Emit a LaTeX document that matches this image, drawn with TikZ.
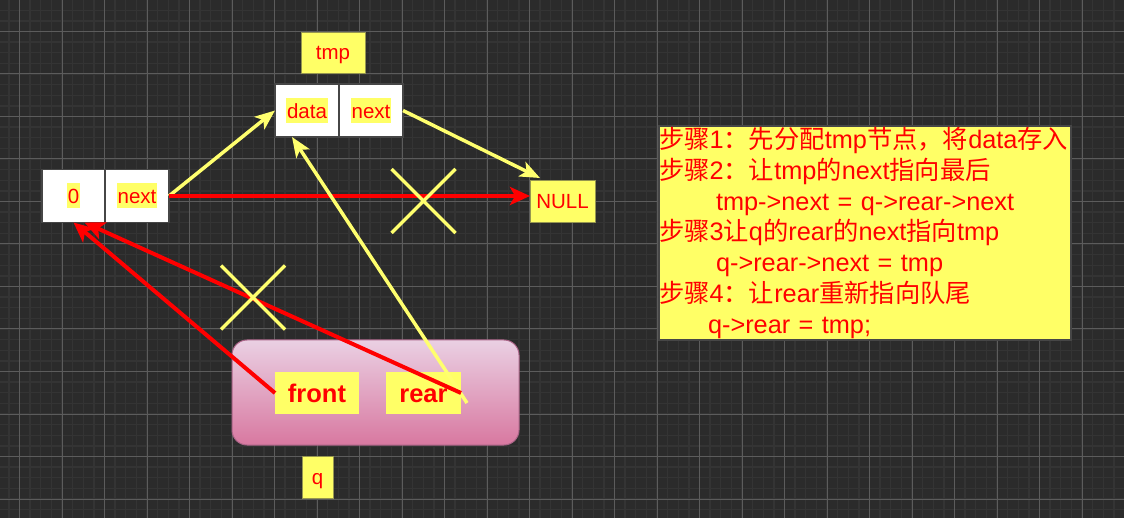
\documentclass[tikz,border=0pt]{standalone}
\usepackage{fontspec}
\setmainfont{Liberation Sans}
\newfontfamily\cjk{Noto Sans CJK SC}
\usetikzlibrary{arrows.meta,positioning}
\definecolor{canvasgray}{RGB}{43,43,43}
\definecolor{gridminor}{RGB}{52,52,52}
\definecolor{gridmajor}{RGB}{92,92,92}
\definecolor{noteyellow}{RGB}{255,255,102}
\definecolor{linkyellow}{RGB}{255,255,110}
\definecolor{cellborder}{RGB}{70,70,70}
\definecolor{labelborder}{RGB}{150,150,80}
\definecolor{qtop}{RGB}{234,208,227}
\definecolor{qbottom}{RGB}{216,120,160}
\definecolor{qborder}{RGB}{170,100,135}

\newcommand{\hl}[1]{{\setlength{\fboxsep}{1pt}\colorbox{noteyellow}{\rule[-3.7pt]{0pt}{23pt}#1}}}

\begin{document}
\begin{tikzpicture}[x=1pt,y=-1pt,
    cell/.style={draw=cellborder, line width=1.2pt, fill=white, minimum width=64pt,
      minimum height=53pt, inner sep=0pt, outer sep=0pt, text=red,
      font=\fontsize{20.5}{23}\selectfont},
    labelbox/.style={draw=labelborder, line width=0.8pt, fill=noteyellow, text=red,
      inner sep=0pt, outer sep=0pt, text height=15pt, text depth=0pt,
      font=\fontsize{20.5}{24}\selectfont},
    keybox/.style={fill=noteyellow, text=red, inner sep=0pt, outer sep=0pt,
      minimum height=42pt, text height=18.4pt, text depth=0pt,
      font=\fontsize{25.5}{28}\selectfont\bfseries},
    notebox/.style={draw=cellborder, line width=1.2pt, fill=noteyellow, text=red,
      minimum width=412pt, minimum height=214pt, text width=412pt, align=left,
      inner sep=0pt, font=\fontsize{25.3}{30.8}\selectfont},
    qstyle/.style={draw=qborder, line width=1pt, rounded corners=15pt,
      top color=qtop, bottom color=qbottom, minimum width=287pt, minimum height=105pt},
    redlink/.style={red, line width=4pt, -{Stealth[length=20pt,width=18pt,inset=5pt]}},
    yellowlink/.style={linkyellow, line width=3.5pt, -{Stealth[length=20pt,width=16pt,inset=5pt]}},
    crossmark/.style={linkyellow, line width=3.5pt}]

  % canvas and grid
  \fill[canvasgray] (0,0) rectangle (1124,518);
  \useasboundingbox (0,0) rectangle (1124,518);
  \foreach \k in {-1,...,103}
    \draw[gridminor, line width=1.3pt] ({19.5+10.625*\k},0) -- ++(0,518);
  \foreach \k in {-2,...,45}
    \draw[gridminor, line width=1.3pt] (0,{31.5+10.625*\k}) -- ++(1124,0);
  \foreach \k in {0,...,25}
    \draw[gridmajor, line width=1pt] ({19.5+42.5*\k},0) -- ++(0,518);
  \foreach \k in {0,...,11}
    \draw[gridmajor, line width=1pt] (0,{31.5+42.5*\k}) -- ++(1124,0);

  % list nodes
  \node[cell, minimum width=63pt] (zero) at (73.5,196) {\hl{0}};
  \node[cell, right=0pt of zero] (znext) {\hl{next}};
  \node[cell] (tdata) at (307,110.5) {\hl{data}};
  \node[cell, right=0pt of tdata] (tnext) {\hl{next}};
  \node[labelbox, minimum width=64pt, minimum height=41pt] (tmp) at (333,52.5) {tmp};
  \node[labelbox, minimum width=65pt, minimum height=42pt] (null) at (562.5,201) {NULL};

  % queue
  \node[qstyle] (qbox) at (375.5,392.5) {};
  \node[keybox, minimum width=84pt] (front) at (317,393) {front};
  \node[keybox, minimum width=75pt, right=27pt of front] (rear) {rear};
  \node[labelbox, minimum width=31pt, minimum height=42pt] (qname) at (317.5,477) {q};

  % steps
  \node[notebox] (steps) at (865,233) {%
    {\cjk 步骤}1{\cjk ：先分配}tmp{\cjk 节点，将}data{\cjk 存入}\\
    {\cjk 步骤}2{\cjk ：让}tmp{\cjk 的}next{\cjk 指向最后}\\
    \hspace*{57pt}tmp->next = q->rear->next\\
    {\cjk 步骤}3{\cjk 让}q{\cjk 的}rear{\cjk 的}next{\cjk 指向}tmp\\
    \hspace*{57pt}q->rear->next = tmp\\
    {\cjk 步骤}4{\cjk ：让}rear{\cjk 重新指向队尾}\\
    \hspace*{49pt}q->rear = tmp;};

  % links
  \draw[yellowlink] (znext.east) -- (tdata.west);
  \draw[redlink] (znext.east) -- (znext.east -| null.west);
  \draw[yellowlink] (tnext.east) -- ([xshift=10pt,yshift=2pt]null.north west);
  \coordinate (rearend) at ([shift={(6,10)}]rear.east);
  \draw[yellowlink] (rearend) -- ([xshift=17pt]tdata.south west);
  \draw[redlink] (front.west) -- (zero.south);
  \draw[redlink] (rear.east) -- ([xshift=11pt]zero.south);

  % cut links
  \coordinate (cutnull) at (423.5,201);
  \coordinate (cutfront) at (253,297.5);
  \foreach \c in {cutnull,cutfront} {
    \draw[crossmark] ([shift={(-32,-32)}]\c) -- ([shift={(32,32)}]\c);
    \draw[crossmark] ([shift={(32,-32)}]\c) -- ([shift={(-32,32)}]\c);
  }
\end{tikzpicture}
\end{document}
